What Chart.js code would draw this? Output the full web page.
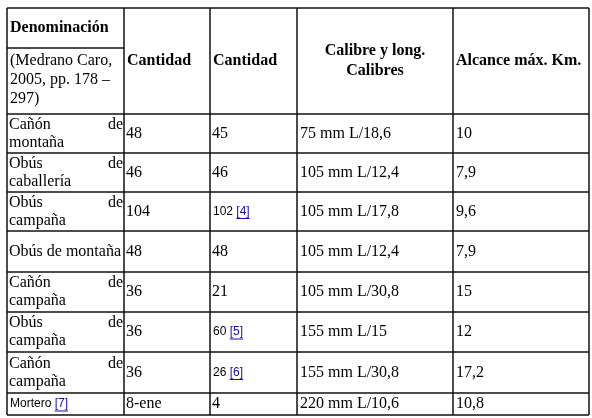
<!DOCTYPE html>
<html>
<head>
<meta charset="utf-8">
<script src="https://cdn.jsdelivr.net/npm/chart.js@4"></script>
<style>body{margin:0;background:#fff}#c{display:block}</style>
</head>
<body>
<div style="width:592px;height:418px"><canvas id="c"></canvas></div>
<script>
// table data
var denominacion = [["Cañón", "de", "montaña"], ["Obús", "de", "caballería"], ["Obús", "de", "campaña"], ["Obús de montaña"],
  ["Cañón", "de", "campaña"], ["Obús", "de", "campaña"], ["Cañón", "de", "campaña"], ["Mortero", "[7]"]];
var cantidad1 = ["48", "46", "104", "48", "36", "36", "36", "8-ene"];
var cantidad2 = ["45", "46", "102", "48", "21", "60", "26", "4"];
var notas2 = ["", "", "[4]", "", "", "[5]", "[6]", ""];
var calibres = ["75 mm L/18,6", "105 mm L/12,4", "105 mm L/17,8", "105 mm L/12,4", "105 mm L/30,8", "155 mm L/15", "155 mm L/30,8", "220 mm L/10,6"];
var alcance = ["10", "7,9", "9,6", "7,9", "15", "12", "17,2", "10,8"];

// layout (pixel grid)
var colX = [7, 124, 210, 297, 453, 589];
var rowY = [8, 114, 153, 192, 231, 272, 312, 352, 393, 415];
var headSplit = 48;

var serif = "Liberation Serif, Times New Roman, serif";
var sans = "Liberation Sans, Arial, sans-serif";

var tablePlugin = {
  id: 'table',
  afterDraw: function (chart) {
    var c = chart.ctx, xs = chart.scales.x, ys = chart.scales.y;
    var X = function (v) { return xs.getPixelForValue(v); };
    var Y = function (v) { return ys.getPixelForValue(v); };
    c.save();
    c.strokeStyle = "#111";
    c.lineWidth = 1.5;
    function line(x1, y1, x2, y2) { c.beginPath(); c.moveTo(X(x1), Y(y1)); c.lineTo(X(x2), Y(y2)); c.stroke(); }
    colX.forEach(function (x) { line(x, rowY[0], x, rowY[rowY.length - 1]); });
    rowY.forEach(function (y) { line(colX[0], y, colX[colX.length - 1], y); });
    line(colX[0], headSplit, colX[1], headSplit);

    c.fillStyle = "#000";
    c.textBaseline = "middle";
    function txt(s, x, y, font, align) { c.font = font; c.textAlign = align || "left"; c.fillText(s, X(x), Y(y)); }
    function link(s, x, y, font) {
      c.font = font; c.fillStyle = "#1a0dab"; c.textAlign = "left";
      c.fillText(s, X(x), Y(y));
      var w = c.measureText(s).width;
      c.strokeStyle = "#1a0dab"; c.lineWidth = 1;
      c.beginPath(); c.moveTo(X(x), Y(y) + 7); c.lineTo(X(x) + w, Y(y) + 7); c.stroke();
      c.fillStyle = "#000"; c.strokeStyle = "#111";
      return w;
    }
    // header
    var bold = "bold 16px " + serif, reg = "16px " + serif;
    txt("Denominación", colX[0] + 3, 28, bold);
    txt("(Medrano Caro,", colX[0] + 3, 61, reg);
    txt("2005, pp. 178 –", colX[0] + 3, 80, reg);
    txt("297)", colX[0] + 3, 99, reg);
    var hm = (rowY[0] + rowY[1]) / 2;
    txt("Cantidad", colX[1] + 3, hm, bold);
    txt("Cantidad", colX[2] + 3, hm, bold);
    txt("Calibre y long.", (colX[3] + colX[4]) / 2, hm - 10, bold, "center");
    txt("Calibres", (colX[3] + colX[4]) / 2, hm + 10, bold, "center");
    txt("Alcance máx. Km.", colX[4] + 3, hm, bold);

    for (var i = 0; i < cantidad1.length; i++) {
      var m = (rowY[i + 1] + rowY[i + 2]) / 2;
      var d = denominacion[i];
      if (d.length === 3) {
        txt(d[0], colX[0] + 2, m - 9, reg);
        txt(d[1], colX[1] - 1, m - 9, reg, "right");
        txt(d[2], colX[0] + 2, m + 9, reg);
      } else if (d.length === 2) {
        c.font = "12px " + sans;
        txt(d[0] + " ", colX[0] + 3, m, "12px " + sans);
        var w0 = c.measureText(d[0] + " ").width;
        link(d[1], colX[0] + 3 + w0, m, "12px " + sans);
      } else {
        txt(d[0], colX[0] + 2, m, reg);
      }
      txt(cantidad1[i], colX[1] + 2, m, reg);
      if (notas2[i]) {
        c.font = "12px " + sans;
        txt(cantidad2[i] + " ", colX[2] + 3, m, "12px " + sans);
        var w1 = c.measureText(cantidad2[i] + " ").width;
        link(notas2[i], colX[2] + 3 + w1, m, "12px " + sans);
      } else {
        txt(cantidad2[i], colX[2] + 2, m, reg);
      }
      txt(calibres[i], colX[3] + 3, m, reg);
      txt(alcance[i], colX[4] + 3, m, reg);
    }
    c.restore();
  }
};

new Chart(document.getElementById('c'), {
  type: 'scatter',
  data: { datasets: [{ data: [] }] },
  options: {
    responsive: true, maintainAspectRatio: false, animation: false,
    layout: { padding: 0 },
    plugins: { legend: { display: false }, tooltip: { enabled: false } },
    scales: {
      x: { type: 'linear', min: 0, max: 592, display: false },
      y: { type: 'linear', min: 0, max: 418, reverse: true, display: false }
    }
  },
  plugins: [tablePlugin]
});
</script>
</body>
</html>
